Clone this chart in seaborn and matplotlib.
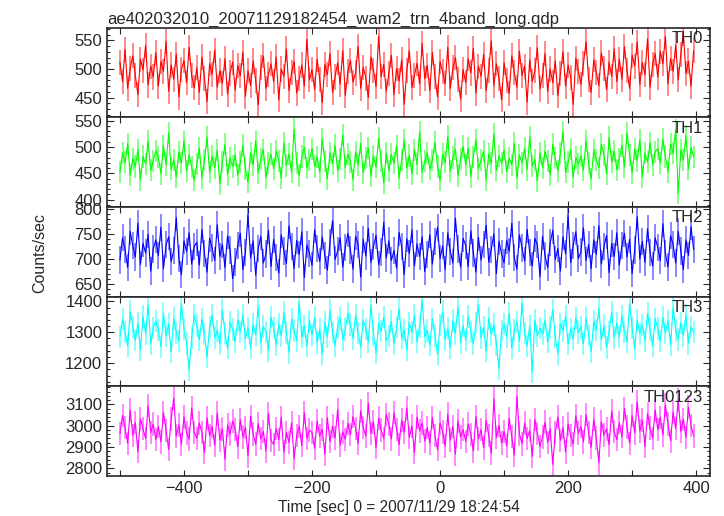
import numpy as np
import pandas as pd
import seaborn as sns
import matplotlib
matplotlib.use("Agg")
import matplotlib.pyplot as plt
from matplotlib.ticker import MultipleLocator

# bin grid: 4 s bins starting at -500 s
t_start = -500
bin_size = 4

th0 = [
    512, 478, 534, 466, 501, 523, 489, 455, 517, 498, 541, 472, 505, 486, 529,
    470, 513, 496, 548, 461, 507, 482, 526, 451, 499, 515, 476, 538, 488, 467,
    502, 459, 521, 484, 443, 509, 491, 533, 468, 497, 475, 518, 456, 493, 512,
    463, 506, 488, 529, 452, 497, 471, 514, 480, 437, 502, 523, 466, 491, 509,
    478, 521, 446, 500, 487, 535, 462, 494, 513, 458, 483, 507, 470, 552, 481,
    499, 464, 517, 482, 441, 508, 490, 527, 459, 486, 511, 473, 532, 454, 496,
    515, 477, 493, 540, 466, 503, 484, 450, 521, 498, 469, 557, 487, 508, 461,
    492, 524, 455, 501, 479, 516, 438, 497, 532, 468, 489, 510, 474, 545, 483,
    506, 462, 529, 487, 451, 513, 495, 474, 538, 466, 502, 520, 481, 447, 499,
    476, 518, 493, 536, 458, 505, 487, 526, 462, 498, 549, 471, 509, 484, 446,
    511, 480, 457, 523, 494, 468, 531, 489, 505, 442, 516, 478, 497, 537, 465,
    488, 527, 461, 500, 476, 514, 453, 492, 530, 470, 507, 485, 438, 519, 496,
    473, 509, 548, 482, 459, 516, 494, 471, 528, 501, 464, 512, 487, 535, 478,
    517, 482, 539, 498, 466, 524, 505, 547, 473, 511, 490, 553, 468, 508, 527,
    486, 531, 509, 557, 474, 518, 496, 542, 481, 525, 563, 492, 514, 470, 532,
]
th1 = [
    452, 489, 471, 506, 447, 478, 463, 495, 438, 482, 468, 511, 456, 474, 493,
    481, 449, 502, 466, 527, 458, 476, 443, 491, 470, 512, 454, 485, 462, 437,
    467, 498, 441, 476, 519, 452, 483, 461, 494, 430, 472, 505, 448, 479, 463,
    485, 447, 471, 503, 458, 433, 489, 466, 512, 451, 478, 495, 442, 470, 486,
    459, 493, 474, 441, 508, 465, 487, 452, 534, 470, 446, 482, 499, 461, 476,
    497, 463, 481, 452, 516, 474, 440, 489, 468, 503, 455, 478, 523, 461, 486,
    472, 438, 491, 466, 507, 451, 479, 498, 445, 483, 462, 517, 474, 432, 488,
    455, 486, 469, 502, 441, 476, 513, 460, 484, 449, 495, 467, 528, 452, 473,
    489, 458, 475, 509, 463, 437, 486, 471, 520, 454, 480, 496, 446, 477, 501,
    466, 498, 444, 481, 514, 459, 475, 492, 438, 487, 469, 525, 455, 483, 470,
    494, 453, 479, 466, 507, 441, 485, 470, 498, 457, 519, 464, 476, 436, 489,
    461, 492, 474, 447, 505, 479, 455, 488, 529, 452, 471, 496, 443, 480, 467,
    483, 456, 512, 470, 439, 494, 476, 461, 505, 485, 449, 518, 471, 492, 457,
    478, 503, 462, 527, 485, 451, 496, 474, 514, 443, 489, 471, 508, 466, 491,
    497, 469, 515, 482, 453, 506, 488, 533, 412, 494, 476, 521, 458, 499, 481,
]
th2 = [
    698, 742, 719, 683, 755, 726, 704, 771, 689, 731, 712, 749, 676, 720, 738,
    707, 763, 681, 728, 744, 695, 717, 782, 701, 669, 736, 715, 752, 690, 725,
    733, 688, 759, 711, 674, 741, 722, 697, 768, 705, 729, 683, 746, 718, 661,
    694, 727, 751, 679, 713, 788, 702, 736, 668, 721, 745, 692, 710, 757, 685,
    739, 703, 672, 748, 716, 691, 766, 724, 681, 737, 709, 754, 663, 728, 711,
    687, 758, 721, 695, 744, 707, 678, 733, 776, 699, 716, 742, 684, 723, 751,
    718, 680, 745, 729, 664, 739, 706, 761, 693, 725, 747, 689, 714, 773, 702,
    736, 697, 717, 682, 753, 724, 669, 740, 711, 758, 686, 730, 705, 744, 675,
    709, 748, 690, 734, 763, 701, 726, 679, 752, 715, 692, 781, 720, 684, 741,
    727, 685, 756, 712, 674, 743, 698, 729, 767, 694, 719, 750, 671, 735, 710,
    692, 737, 715, 771, 703, 680, 748, 722, 696, 759, 713, 686, 741, 728, 665,
    745, 706, 683, 732, 757, 699, 721, 676, 744, 710, 787, 693, 727, 754, 701,
    714, 762, 697, 729, 681, 738, 709, 766, 690, 724, 747, 673, 731, 705, 752,
    688, 726, 751, 704, 739, 671, 718, 784, 700, 735, 693, 760, 713, 686, 742,
    723, 697, 770, 711, 684, 746, 729, 692, 755, 716, 679, 738, 707, 764, 719,
]
th3 = [
    1285, 1342, 1301, 1256, 1367, 1318, 1274, 1329, 1243, 1351, 1296, 1388, 1262, 1314, 1337,
    1308, 1253, 1361, 1289, 1326, 1237, 1345, 1298, 1272, 1393, 1311, 1264, 1178, 1281, 1356,
    1322, 1276, 1343, 1294, 1219, 1318, 1357, 1283, 1305, 1261, 1372, 1297, 1248, 1333, 1309,
    1270, 1339, 1301, 1357, 1279, 1315, 1248, 1326, 1292, 1383, 1266, 1319, 1302, 1241, 1349,
    1313, 1260, 1327, 1288, 1364, 1299, 1235, 1342, 1306, 1273, 1398, 1284, 1321, 1255, 1337,
    1291, 1348, 1267, 1310, 1229, 1332, 1285, 1371, 1300, 1256, 1318, 1345, 1276, 1309, 1362,
    1325, 1279, 1356, 1297, 1252, 1340, 1311, 1268, 1387, 1294, 1233, 1328, 1303, 1349, 1273,
    1288, 1335, 1262, 1316, 1376, 1281, 1307, 1243, 1331, 1299, 1354, 1270, 1319, 1405, 1286,
    1306, 1258, 1343, 1290, 1228, 1323, 1367, 1276, 1312, 1251, 1338, 1296, 1384, 1267, 1320,
    1274, 1351, 1300, 1263, 1330, 1389, 1282, 1317, 1239, 1346, 1293, 1325, 1260, 1182, 1304,
    1327, 1286, 1362, 1249, 1308, 1334, 1271, 1395, 1297, 1256, 1321, 1173, 1340, 1289, 1313,
    1295, 1339, 1268, 1316, 1373, 1284, 1230, 1328, 1305, 1352, 1263, 1311, 1280, 1347, 1299,
    1318, 1262, 1345, 1292, 1237, 1336, 1307, 1378, 1275, 1322, 1251, 1301, 1366, 1283, 1329,
    1284, 1353, 1301, 1269, 1392, 1315, 1246, 1338, 1296, 1324, 1273, 1361, 1309, 1255, 1344,
    1312, 1271, 1349, 1298, 1336, 1259, 1381, 1306, 1277, 1330, 1289, 1355, 1264, 1318, 1301,
]
th0123 = [
    2962, 3048, 2991, 2917, 3073, 2954, 3015, 2878, 3031, 2986, 2941, 3094, 2968, 3007, 2935,
    2996, 2923, 3062, 2978, 2889, 3031, 3129, 2951, 3004, 2912, 3041, 2966, 2937, 3083, 2969,
    2941, 3012, 2968, 2874, 3036, 2953, 2996, 2907, 3059, 2932, 2985, 2843, 3004, 2960, 3021,
    2983, 2901, 3028, 2947, 2992, 2858, 3044, 2961, 2913, 3010, 2939, 2973, 2882, 3057, 2930,
    2912, 2986, 2934, 3039, 2876, 2968, 2921, 3014, 2845, 2953, 2997, 2906, 3061, 2940, 2979,
    2967, 2894, 3021, 2951, 2983, 2866, 3037, 2925, 2998, 2942, 3076, 2909, 2971, 2936, 3011,
    2958, 3043, 2987, 2916, 3069, 2992, 2951, 3104, 2964, 3018, 2897, 3035, 2979, 2940, 3052,
    3007, 2938, 3061, 2982, 2911, 3026, 2969, 3083, 2945, 2998, 2873, 3041, 2976, 3012, 2929,
    2991, 2918, 3037, 2955, 2887, 3013, 2970, 2904, 3054, 2932, 2996, 2867, 3022, 2947, 2981,
    2926, 3008, 2959, 2881, 3043, 2937, 2982, 2896, 3025, 2953, 2871, 3126, 2944, 3001, 2918,
    2973, 2905, 3034, 2948, 2862, 3138, 2960, 2915, 3012, 2939, 2978, 2856, 3029, 2964, 2902,
    2947, 3016, 2921, 2985, 2819, 2968, 3041, 2930, 2991, 2876, 3007, 2954, 2913, 3046, 2965,
    2996, 2924, 3052, 2967, 2898, 3031, 2943, 2826, 3019, 2957, 2985, 2910, 3068, 2972, 2934,
    3014, 2948, 3081, 2993, 2917, 3047, 2966, 3112, 2975, 3026, 2902, 3058, 2988, 2941, 3073,
    2981, 3039, 2957, 3096, 3008, 2929, 3064, 2986, 3121, 2973, 3030, 2945, 3087, 3001, 2952,
]

bands = ["TH0", "TH1", "TH2", "TH3", "TH0123"]
series = [th0, th1, th2, th3, th0123]
errors = [22, 21, 27, 36, 55]
colors = ["#ff0000", "#00ff00", "#0000ff", "#00ffff", "#ff00ff"]
ylims = [(415, 572), (386, 556), (625, 803), (1125, 1415), (2764, 3184)]
ymajor = [50, 50, 50, 100, 100]
yminor = [10, 10, 10, 20, 20]

sns.set_style("ticks")
plt.rcParams["font.family"] = ["Liberation Sans", "DejaVu Sans"]
plt.rcParams["font.size"] = 12

fig, axes = plt.subplots(5, 1, figsize=(7.24, 5.16), dpi=100, sharex=True)
fig.subplots_adjust(left=0.148, right=0.981, top=0.946, bottom=0.0775, hspace=0)

for i, ax in enumerate(axes):
    vals = series[i]
    t = t_start + bin_size * np.arange(len(vals))
    df = pd.DataFrame({"time": t, "rate": vals})
    ax.errorbar(df["time"], df["rate"], yerr=errors[i], fmt="none",
                ecolor=colors[i], elinewidth=1.3, alpha=0.5)
    sns.lineplot(data=df, x="time", y="rate", ax=ax, color=colors[i], lw=0.8)
    ax.set_ylim(*ylims[i])
    ax.set_xlim(-520, 422)
    ax.yaxis.set_major_locator(MultipleLocator(ymajor[i]))
    ax.yaxis.set_minor_locator(MultipleLocator(yminor[i]))
    ax.xaxis.set_major_locator(MultipleLocator(200))
    ax.xaxis.set_minor_locator(MultipleLocator(100))
    ax.tick_params(which="both", direction="in", top=True, right=True, width=0.8,
                   labelsize=12)
    ax.tick_params(axis="y", which="major", length=5)
    ax.tick_params(axis="y", which="minor", length=2.5)
    ax.tick_params(axis="x", which="both", length=4)
    ax.set_xlabel("")
    ax.set_ylabel("")
    for s in ax.spines.values():
        s.set_linewidth(1.2)
    ax.text(0.988, 0.965, bands[i], transform=ax.transAxes, ha="right", va="top",
            fontsize=12)

axes[0].set_title("ae402032010_20071129182454_wam2_trn_4band_long.qdp",
                  loc="left", fontsize=12, pad=3)
fig.text(0.5504, 0.017, "Time [sec] 0 = 2007/11/29 18:24:54", ha="center",
         va="center", fontsize=11.2)
fig.text(0.055, 0.51, "Counts/sec", rotation=90, ha="center", va="center", fontsize=11.5)

fig.savefig("out.png", dpi=100)
